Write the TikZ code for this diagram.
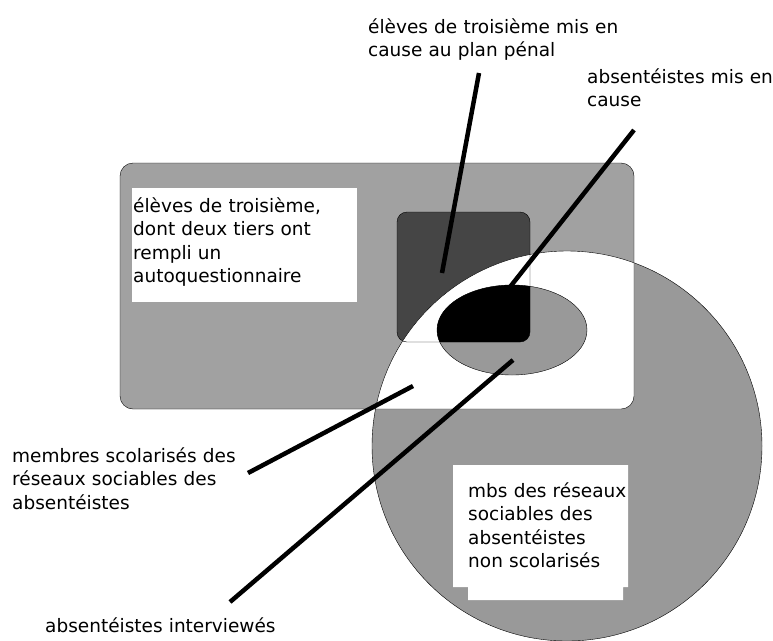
\documentclass[tikz,border=0pt]{standalone}
\usepackage{fontspec}
\setmainfont{DejaVu Sans}
\definecolor{paleg}{gray}{0.63}
\definecolor{midg}{gray}{0.6}
\definecolor{darkg}{gray}{0.27}
\begin{document}
\begin{tikzpicture}[x=1pt,y=-1pt,
  lbl/.style={anchor=base west, inner sep=0pt, align=left, text width=260pt,
    font=\fontsize{18.5}{23.5}\selectfont},
  pointer/.style={line width=4.5pt, black}]
\useasboundingbox (0,0) rectangle (773,640);
% zones
\fill[paleg, rounded corners=13pt] (120,163) rectangle (634,409);
\fill[midg] (567,446) circle (195);
\fill[darkg, rounded corners=10pt] (397,212) rectangle (530,342);
\begin{scope}
\clip (567,446) circle (195);
\fill[white, rounded corners=13pt] (120,163) rectangle (634,409);
\end{scope}
\fill[midg] (512,330) ellipse (75 and 45);
\begin{scope}
\clip (512,330) ellipse (75 and 45);
\fill[black, rounded corners=10pt] (397,212) rectangle (530,342);
\end{scope}
\draw (567,446) circle (195);
\draw[rounded corners=13pt] (120,163) rectangle (634,409);
\draw[rounded corners=10pt] (397,212) rectangle (530,342);
\draw (512,330) ellipse (75 and 45);
% white boxes
\fill[white] (132,188) rectangle (357,302);
\fill[white] (453,465)--(628,465)--(628,587)--(623,587)--(623,600)
  --(468,600)--(468,587)--(453,587)--cycle;
% labels
\node[lbl] (pen) at (368,33) {élèves de troisième mis en\\cause au plan pénal};
\node[lbl] (mec) at (587,83) {absentéistes mis en\\cause};
\node[lbl] (eleves) at (133,212) {élèves de troisième,\\dont deux tiers ont\\rempli un\\autoquestionnaire};
\node[lbl] (membres) at (12,462) {membres scolarisés des\\réseaux sociables des\\absentéistes};
\node[lbl] (inter) at (45,632) {absentéistes interviewés};
\node[lbl] (mbs) at (468,497) {mbs des réseaux\\sociables des\\absentéistes\\non scolarisés};
% pointers
\coordinate (pen1) at (479,73);   \coordinate (pen2) at (442,273);
\coordinate (mec1) at (634,130);  \coordinate (mec2) at (510,287);
\coordinate (mem1) at (248,473);  \coordinate (mem2) at (413,386);
\coordinate (int1) at (230,602);  \coordinate (int2) at (513,360);
\foreach \p in {pen,mec,mem,int} {\draw[pointer] (\p1)--(\p2);}
\end{tikzpicture}
\end{document}
